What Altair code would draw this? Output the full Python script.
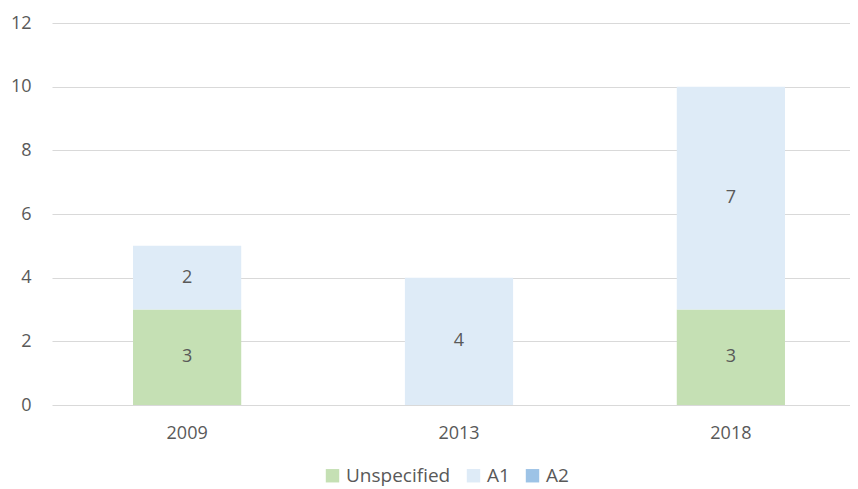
import altair as alt
import pandas as pd

years = ["2009", "2013", "2018"]
series = ["Unspecified", "A1", "A2"]
unspecified = [3, 0, 3]
a1 = [2, 4, 7]
a2 = [0, 0, 0]
colors = ["#c5e0b4", "#deebf7", "#9dc3e6"]

rows = []
for i, y in enumerate(years):
    for k, (s, vals) in enumerate(zip(series, [unspecified, a1, a2])):
        rows.append({"year": y, "series": s, "value": vals[i], "order": k})
df = pd.DataFrame(rows)

FONT = "Open Sans"
GRAY = "#595959"

x = alt.X("year:N", sort=years, title=None,
          scale=alt.Scale(paddingInner=0.602, paddingOuter=0.298, range=[0, 814]),
          axis=alt.Axis(labelAngle=0, labelFontSize=18, labelColor=GRAY, labelFont=FONT,
                        ticks=False, domain=False, labelPadding=19))

base = alt.Chart(df).transform_stack(
    stack="value", groupby=["year"], as_=["v0", "v1"],
    sort=[alt.SortField("order", order="ascending")]
).transform_calculate(mid="(datum.v0 + datum.v1) / 2")

bars = base.mark_bar().encode(
    x=x,
    y=alt.Y("v0:Q", title=None,
            scale=alt.Scale(domain=[0, 12]),
            axis=alt.Axis(values=[0, 2, 4, 6, 8, 10, 12], labelFontSize=18, labelColor=GRAY,
                          labelFont=FONT, ticks=False, domain=False, gridColor="#d9d9d9",
                          gridWidth=1.2, labelPadding=21)),
    y2="v1:Q",
    color=alt.Color("series:N", sort=series,
                    scale=alt.Scale(domain=series, range=colors),
                    legend=alt.Legend(title=None, orient="none", direction="horizontal",
                                      legendX=271, legendY=443,
                                      symbolType="square", symbolSize=180, symbolStrokeWidth=0,
                                      labelFontSize=19, labelColor=GRAY, labelFont=FONT,
                                      columnPadding=13, labelOffset=4)),
)

labels = base.transform_filter("datum.value > 0").mark_text(
    fontSize=18, color=GRAY, font=FONT, baseline="middle"
).encode(
    x=alt.X("year:N", sort=years),
    y=alt.Y("mid:Q"),
    text=alt.Text("value:Q"),
)

chart = alt.layer(bars, labels).properties(
    width=798, height=382,
    autosize=alt.AutoSizeParams(type="none"),
    padding={"left": 44, "top": 15, "right": 0, "bottom": 84},
).configure_view(stroke=None)

chart.save("out.html", embed_options={"renderer": "svg", "actions": False})
